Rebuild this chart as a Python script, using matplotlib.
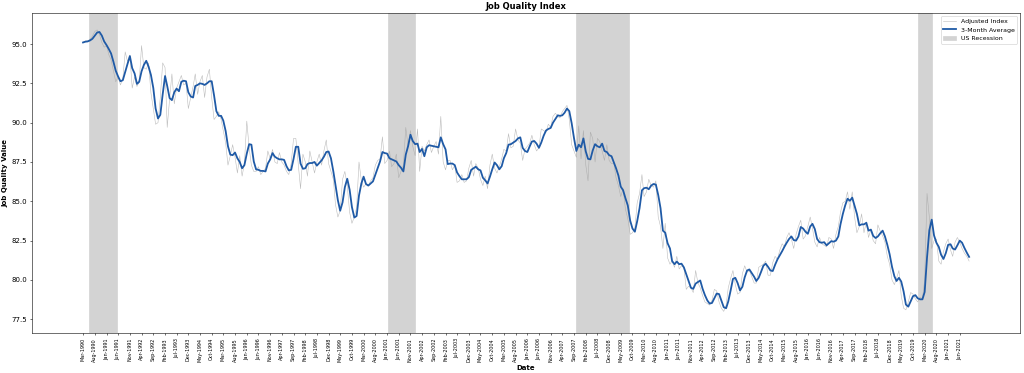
# job quality index with 3 month average

import pandas as pd
import matplotlib.pyplot as plt

start_month = "1990-03-01"

# adjusted index, one row per year (1990 starts in March, 2021 ends in October)
idx_1990 = [95.1, 95.2, 95.2, 95.3, 95.5, 95.8, 95.9, 95.6, 95.1, 94.8]
idx_1991 = [94.9, 94.3, 94.0, 93.3, 92.6, 92.9, 92.4, 92.8, 94.5, 93.9, 94.3, 92.2]
idx_1992 = [92.9, 92.3, 92.6, 94.9, 93.5, 93.4, 93.8, 91.9, 90.9, 89.9, 90.0, 91.6]
idx_1993 = [93.8, 93.5, 89.7, 91.5, 93.1, 91.2, 92.2, 92.6, 93.0, 92.4, 92.5, 90.9]
idx_1994 = [91.6, 92.3, 93.1, 91.8, 92.6, 93.0, 91.6, 92.9, 93.4, 91.6, 90.2, 90.4]
idx_1995 = [90.7, 90.2, 89.5, 88.7, 87.3, 87.9, 88.6, 87.8, 86.8, 87.9, 86.6, 87.4]
idx_1996 = [90.1, 88.4, 87.3, 86.9, 86.9, 87.2, 86.7, 86.9, 87.1, 88.2, 87.7, 88.3]
idx_1997 = [87.5, 87.4, 88.1, 87.5, 87.3, 86.9, 86.7, 87.4, 89.0, 89.0, 87.4, 85.8]
idx_1998 = [88.0, 87.5, 86.6, 88.2, 87.5, 86.8, 87.5, 88.0, 87.3, 88.2, 88.9, 87.4]
idx_1999 = [86.9, 86.4, 84.8, 84.0, 84.4, 86.4, 86.9, 86.0, 84.3, 83.6, 84.0, 84.6]
idx_2000 = [87.5, 86.3, 85.9, 86.1, 86.0, 86.3, 86.5, 87.3, 87.6, 87.7, 89.1, 87.4]
idx_2001 = [87.6, 88.2, 87.2, 87.4, 88.0, 86.5, 86.9, 87.3, 89.7, 88.5, 89.5, 88.5]
idx_2002 = [87.9, 89.6, 86.9, 88.5, 88.2, 88.6, 88.9, 88.1, 88.5, 88.8, 88.0, 90.4]
idx_2003 = [87.5, 87.0, 87.6, 87.6, 87.0, 87.3, 86.2, 86.3, 86.7, 86.2, 86.3, 87.1]
idx_2004 = [87.6, 86.6, 87.4, 87.1, 86.4, 86.0, 86.6, 85.8, 87.3, 88.0, 87.1, 86.8]
idx_2005 = [87.2, 87.7, 88.3, 88.2, 89.3, 88.4, 88.5, 89.6, 88.9, 88.7, 87.6, 88.3]
idx_2006 = [88.5, 88.7, 89.2, 88.6, 88.2, 88.4, 89.6, 89.5, 89.4, 89.9, 89.7, 90.4]
idx_2007 = [90.6, 90.4, 90.3, 90.7, 90.9, 91.1, 90.2, 88.6, 88.2, 87.8, 89.8, 87.7]
idx_2008 = [89.5, 87.3, 86.3, 89.4, 89.0, 87.5, 89.0, 88.8, 88.2, 87.6, 88.6, 87.6]
idx_2009 = [87.4, 87.4, 86.5, 86.0, 85.3, 85.8, 84.5, 83.9, 82.9, 83.0, 83.3, 84.9]
idx_2010 = [85.5, 86.7, 85.3, 85.6, 86.4, 86.0, 85.9, 86.3, 84.0, 83.4, 82.0, 83.6]
idx_2011 = [81.4, 81.0, 81.2, 80.8, 81.5, 80.7, 80.9, 80.8, 79.4, 79.6, 79.5, 79.2]
idx_2012 = [80.6, 79.8, 79.5, 79.0, 78.6, 78.5, 78.4, 78.7, 79.4, 79.3, 78.6, 78.2]
idx_2013 = [78.0, 78.4, 79.5, 80.1, 80.6, 79.7, 79.1, 79.2, 80.4, 80.9, 80.5, 80.6]
idx_2014 = [80.2, 79.8, 79.8, 80.8, 80.9, 81.0, 81.2, 80.3, 80.3, 81.1, 81.5, 81.3]
idx_2015 = [81.9, 82.3, 82.1, 82.7, 83.0, 82.6, 82.0, 82.9, 83.4, 83.8, 82.6, 82.8]
idx_2016 = [83.4, 84.0, 83.3, 82.4, 82.1, 82.7, 82.3, 82.2, 82.1, 82.7, 82.6, 82.0]
idx_2017 = [82.9, 83.4, 84.3, 84.9, 85.0, 85.6, 84.5, 85.6, 84.0, 83.0, 83.4, 84.2]
idx_2018 = [83.0, 83.7, 82.7, 83.2, 82.5, 82.3, 83.5, 83.1, 82.8, 82.4, 81.5, 81.0]
idx_2019 = [80.0, 79.7, 80.1, 80.6, 79.0, 78.2, 78.1, 78.6, 79.2, 79.1, 78.8, 78.6]
idx_2020 = [78.9, 78.8, 80.0, 85.5, 84.0, 82.0, 82.5, 82.6, 81.2, 81.0, 81.8, 82.3]
idx_2021 = [82.6, 81.9, 81.5, 82.4, 82.7, 82.4, 82.0, 81.7, 81.5, 81.2]

# shaded recession periods as drawn
rec_starts = ["1990-05-20", "2001-01-15", "2007-10-01", "2019-12-05"]
rec_ends = ["1991-05-20", "2002-01-05", "2009-08-20", "2020-06-05"]

values = (idx_1990 + idx_1991 + idx_1992 + idx_1993 + idx_1994 + idx_1995
          + idx_1996 + idx_1997 + idx_1998 + idx_1999 + idx_2000 + idx_2001
          + idx_2002 + idx_2003 + idx_2004 + idx_2005 + idx_2006 + idx_2007
          + idx_2008 + idx_2009 + idx_2010 + idx_2011 + idx_2012 + idx_2013
          + idx_2014 + idx_2015 + idx_2016 + idx_2017 + idx_2018 + idx_2019
          + idx_2020 + idx_2021)

dates = pd.date_range(start_month, periods=len(values), freq="MS")
data = pd.DataFrame({"index": values}, index=dates)
data["avg3"] = data["index"].rolling(3, min_periods=1).mean()

fig = plt.figure(figsize=(20.48, 7.46), dpi=50)
ax = fig.add_axes([0.03125, 0.107, 0.965, 0.858])

first = True
for s, e in zip(rec_starts, rec_ends):
    ax.axvspan(pd.Timestamp(s), pd.Timestamp(e), color="#d3d3d3", zorder=0,
               label="US Recession" if first else None)
    first = False

ax.plot(data.index, data["index"], color="#a0a0a0", lw=0.8, alpha=0.7,
        label="Adjusted Index")
ax.plot(data.index, data["avg3"], color="#1f5aa6", lw=2.6,
        label="3-Month Average")

ax.margins(x=0.0576)
ax.set_ylim(76.62, 96.97)
ax.set_yticks([77.5, 80.0, 82.5, 85.0, 87.5, 90.0, 92.5, 95.0])
ax.set_yticklabels(["%.1f" % t for t in ax.get_yticks()])

ticks = data.index[::5]
ax.set_xticks(ticks)
ax.set_xticklabels([t.strftime("%b-%Y") for t in ticks], rotation=90, fontsize=7)

ax.set_title("Job Quality Index", fontweight="bold")
ax.set_xlabel("Date", fontweight="bold")
ax.set_ylabel("Job Quality Value", fontweight="bold")

handles, labels = ax.get_legend_handles_labels()
order = [labels.index("Adjusted Index"), labels.index("3-Month Average"),
         labels.index("US Recession")]
ax.legend([handles[i] for i in order], [labels[i] for i in order],
          loc="upper right", fontsize=9)

fig.savefig("out.png", dpi=50)
